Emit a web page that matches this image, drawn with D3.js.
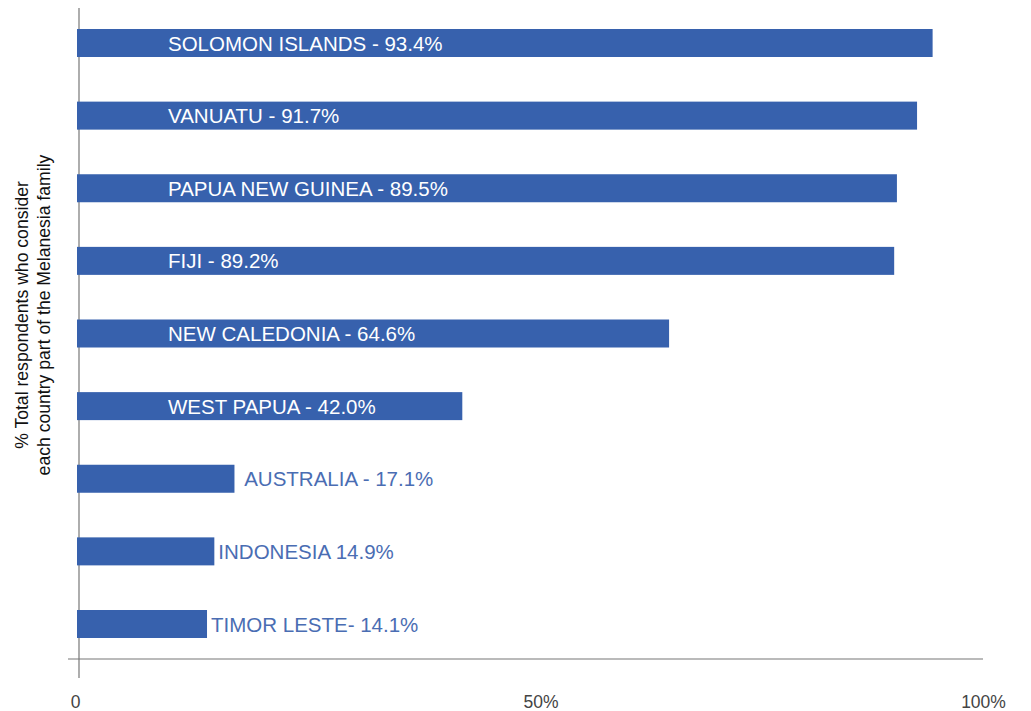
<!DOCTYPE html>
<html>
<head>
<meta charset="utf-8">
<script src="https://cdn.jsdelivr.net/npm/d3@7"></script>
<style>
	body{margin:0;background:#fff;}
	svg text{font-family:"Liberation Sans",Arial,sans-serif;}
</style>
</head>
<body>
<svg id="chart" width="1031" height="711"></svg>
<script>
// data
var countries = ["SOLOMON ISLANDS","VANUATU","PAPUA NEW GUINEA","FIJI","NEW CALEDONIA","WEST PAPUA","AUSTRALIA","INDONESIA","TIMOR LESTE"];
var values = [93.4,91.7,89.5,89.2,64.6,42.0,17.1,14.9,14.1];
var labels = ["SOLOMON ISLANDS - 93.4%","VANUATU - 91.7%","PAPUA NEW GUINEA - 89.5%","FIJI - 89.2%","NEW CALEDONIA - 64.6%","WEST PAPUA - 42.0%","\u00a0AUSTRALIA - 17.1%","INDONESIA 14.9%","TIMOR LESTE- 14.1%"];
var tickValues = [0,50,100];
var tickLabels = ["0","50%","100%"];
var axisTitle = ["% Total respondents who consider","each country part of the Melanesia family"];

var svg = d3.select("#chart");
var barColor = "#3761ad";

var x = d3.scaleLinear().domain([0,100]).range([78,993]);
var y = d3.scalePoint().domain(countries).range([43,624]);
var barH = 28;

// 軸線
svg.append("line").attr("x1",68).attr("x2",983).attr("y1",659).attr("y2",659)
	.attr("stroke","#777").attr("stroke-width",1.2);
svg.append("line").attr("x1",79).attr("x2",79).attr("y1",8).attr("y2",678)
	.attr("stroke","#777").attr("stroke-width",1.2);

// x axis ticks (labels only)
var xAxis = d3.axisBottom(x).tickValues(tickValues).tickSize(0)
	.tickFormat(function(d,i){return tickLabels[i];});
var gx = svg.append("g").attr("transform","translate(0,693)").call(xAxis);
gx.select(".domain").remove();
gx.selectAll("text").attr("font-size",17.5).attr("fill","#444")
	.style("font-family","'Liberation Sans',Arial,sans-serif");
gx.selectAll(".tick").filter(function(d){return d==0;}).select("text").attr("dx",-3);
gx.selectAll(".tick").filter(function(d){return d==50;}).select("text").attr("dx",5);
gx.selectAll(".tick").filter(function(d){return d==100;}).select("text").attr("dx",-10);

// bars
svg.selectAll("rect.bar").data(countries).enter().append("rect")
	.attr("class","bar")
	.attr("x",x(0)-1)
	.attr("y",function(d){return y(d)-barH/2;})
	.attr("width",function(d,i){return x(values[i])-x(0)+1;})
	.attr("height",barH)
	.attr("fill",barColor);

// 標籤: 長條內白字, 短條外藍字
svg.selectAll("text.lbl").data(countries).enter().append("text")
	.attr("class","lbl")
	.attr("x",function(d,i){return values[i]>30 ? 168 : x(values[i])+4;})
	.attr("y",function(d){return y(d)+7.5;})
	.attr("font-size",20.5)
	.attr("fill",function(d,i){return values[i]>30 ? "#fff" : "#4a6db3";})
	.text(function(d,i){return labels[i];});

// y 軸標題
var yt = svg.append("text")
	.attr("transform","translate(0,315) rotate(-90)")
	.attr("text-anchor","middle")
	.attr("font-size",17.6)
	.attr("fill","#111");
yt.selectAll("tspan").data(axisTitle).enter().append("tspan")
	.attr("x",0)
	.attr("y",function(d,i){return 28+i*22;})
	.text(function(d){return d;});
</script>
</body>
</html>
